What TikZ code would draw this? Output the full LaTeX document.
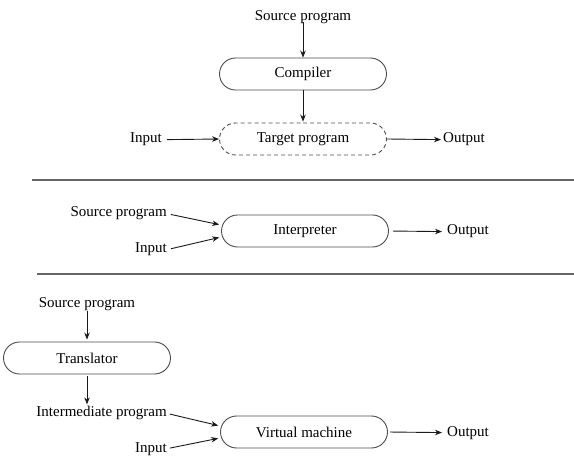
\documentclass[tikz,border=0pt]{standalone}
\usepackage{fontspec}
\setmainfont{Liberation Serif}
\usetikzlibrary{shapes.misc,arrows.meta}
\begin{document}
\begin{tikzpicture}[x=1pt,y=-1pt,
  txt/.style={font=\fontsize{15}{18}\selectfont, text=black},
  proc/.style={txt, draw=black!70, line width=0.9pt, rounded rectangle, minimum width=167pt, minimum height=32pt, inner sep=0pt},
  lbl/.style={txt, inner sep=0pt},
  arr/.style={-{Stealth[length=7pt,width=5.5pt]}, line width=0.9pt, draw=black!90},
  sepline/.style={draw=black!60, line width=1.5pt}]
\useasboundingbox (0,0) rectangle (574,468);
% top: compiler
\node[lbl, anchor=base] (s1) at (303,21) {Source program};
\node[proc] (comp) at (303,74) {Compiler};
\node[proc, dashed, dash pattern=on 4pt off 3pt] (tgt) at (303,139) {Target program};
\node[lbl, anchor=base east] (in1) at (162,143) {Input};
\node[lbl, anchor=base west] (out1) at (443,143) {Output};
\draw[arr] (s1.south) ++(0,-2) -- (comp.north);
\draw[arr, shorten >=1pt] (comp.south) -- (tgt.north);
\draw[arr, shorten <=5pt] (in1.east) -- (tgt.west);
\draw[arr, shorten >=2pt] (tgt.east) -- (out1.west);
% separators
\coordinate (l1a) at (32,180); \coordinate (l1b) at (574,180);
\coordinate (l2a) at (37,274); \coordinate (l2b) at (574,274);
\draw[sepline] (l1a) -- (l1b);
\draw[sepline] (l2a) -- (l2b);
% middle: interpreter
\node[lbl, anchor=base east] (s2) at (167,217) {Source program};
\node[lbl, anchor=base east] (in2) at (167,253) {Input};
\node[proc] (interp) at (305,231) {Interpreter};
\node[lbl, anchor=base west] (out2) at (447,235) {Output};
\draw[arr, shorten <=4pt, shorten >=3pt] (s2.east) -- (interp.176);
\draw[arr, shorten <=4pt, shorten >=3pt] (in2.east) -- (interp.184);
\draw[arr, shorten <=4pt, shorten >=5pt] (interp.east) -- (out2.west);
% bottom: translator + virtual machine
\node[lbl, anchor=base] (s3) at (87,308) {Source program};
\node[proc] (trans) at (87,358) {Translator};
\node[lbl, anchor=base east] (inter) at (167,417) {Intermediate program};
\node[lbl, anchor=base east] (in3) at (167,452) {Input};
\node[proc] (vm) at (304,432) {Virtual machine};
\node[lbl, anchor=base west] (out3) at (447,436) {Output};
\draw[arr, shorten >=2pt] (s3.south) -- (trans.north);
\draw[arr, shorten <=2pt, shorten >=2pt] (trans.south) -- (trans.south |- inter.north);
\draw[arr, shorten <=3pt, shorten >=3pt] (inter.east) -- (vm.176);
\draw[arr, shorten <=3pt, shorten >=3pt] (in3.east) -- (vm.184);
\draw[arr, shorten <=2pt, shorten >=5pt] (vm.east) -- (out3.west);
\end{tikzpicture}
\end{document}
